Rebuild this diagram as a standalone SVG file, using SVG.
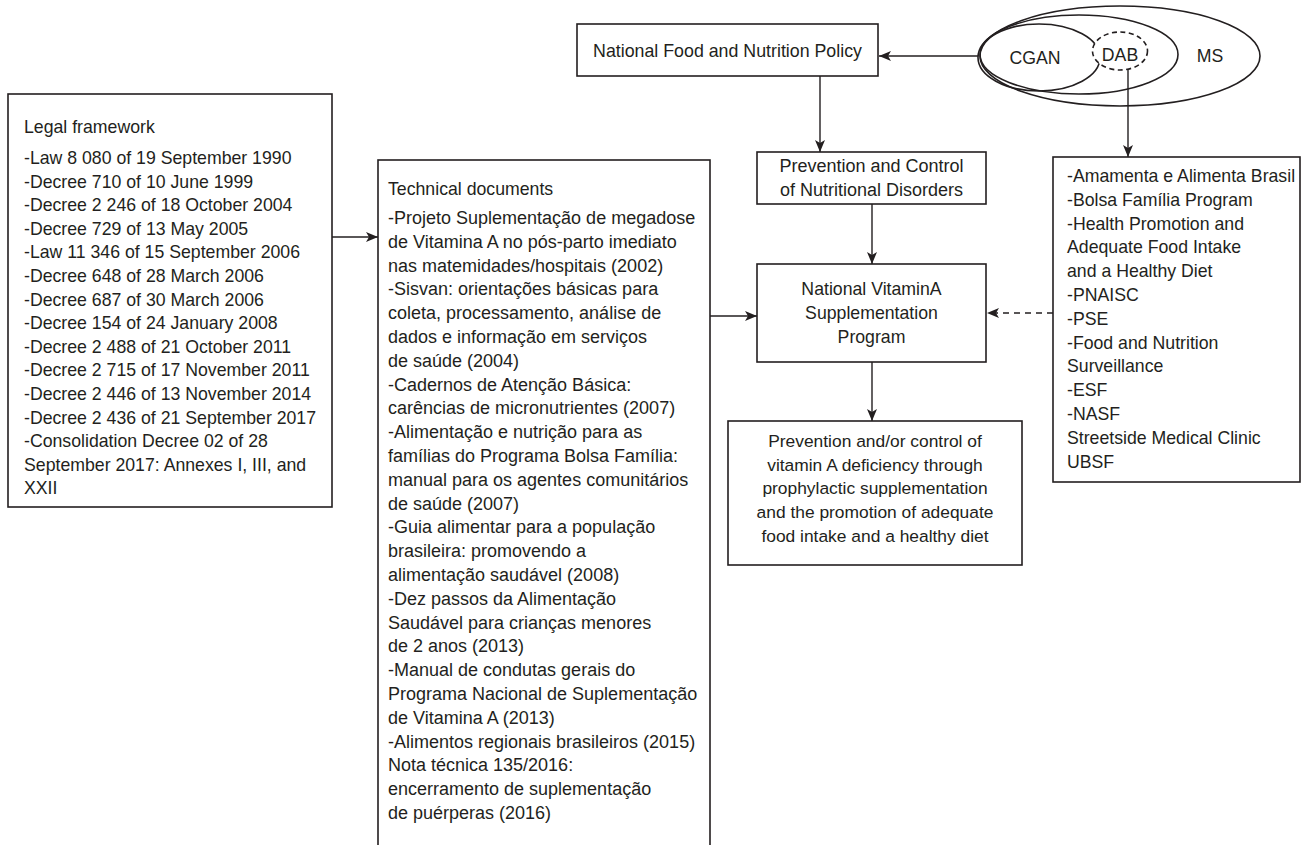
<svg xmlns="http://www.w3.org/2000/svg" width="1307" height="845" viewBox="0 0 1307 845">
<style>
.box{fill:#fff;stroke:#231f20;stroke-width:1.6}
.ell{fill:none;stroke:#231f20;stroke-width:1.6}
.line{fill:none;stroke:#231f20;stroke-width:1.4}
.dash{stroke-dasharray:6 5}
text{font-family:"Liberation Sans",Arial,sans-serif;fill:#231f20;font-size:17.7px}
.c{text-anchor:middle}
</style>
<defs>
<marker id="ah" viewBox="0 0 12 10" refX="12" refY="5" markerWidth="12" markerHeight="10" markerUnits="userSpaceOnUse" orient="auto">
<path d="M0,0 L12,5 L0,10 L3,5 z" fill="#231f20"/>
</marker>
</defs>
<rect width="1307" height="845" fill="#fff"/>

<g id="ministry">
<ellipse class="ell" cx="1120" cy="56" rx="140" ry="50"/>
<ellipse class="ell" cx="1079" cy="54.5" rx="99" ry="39.5"/>
<ellipse class="ell" cx="1039" cy="57.5" rx="61" ry="33.5"/>
<ellipse cx="1120" cy="51" rx="27.5" ry="19" fill="#fff" stroke="#231f20" stroke-width="1.6" stroke-dasharray="5 3.5"/>
<text class="c" x="1035" y="64">CGAN</text>
<text class="c" x="1120" y="61">DAB</text>
<text class="c" x="1210" y="62">MS</text>
</g>

<g id="nfnp">
<rect class="box" x="577" y="24" width="301" height="52"/>
<text class="c" x="727.5" y="57" style="font-size:17.8px">National Food and Nutrition Policy</text>
</g>

<g id="pcnd">
<rect class="box" x="757" y="152" width="229" height="52"/>
<text class="c" x="871.5" y="172" style="font-size:18px">Prevention and Control</text>
<text class="c" x="871.5" y="196" style="font-size:18px">of Nutritional Disorders</text>
</g>

<g id="nvsp">
<rect class="box" x="757" y="264" width="229" height="98"/>
<text class="c" x="871.5" y="295">National VitaminA</text>
<text class="c" x="871.5" y="319">Supplementation</text>
<text class="c" x="871.5" y="343">Program</text>
</g>

<g id="outcome">
<rect class="box" x="728" y="421" width="294" height="144"/>
<g style="font-size:17.4px">
<text class="c" x="875" y="447" style="font-size:17.4px">Prevention and/or control of</text>
<text class="c" x="875" y="471" style="font-size:17.4px">vitamin A deficiency through</text>
<text class="c" x="875" y="494" style="font-size:17.4px">prophylactic supplementation</text>
<text class="c" x="875" y="518" style="font-size:17.4px">and the promotion of adequate</text>
<text class="c" x="875" y="542" style="font-size:17.4px">food intake and a healthy diet</text>
</g>
</g>

<g id="legal">
<rect class="box" x="8" y="94" width="324" height="413"/>
<text x="24" y="133">Legal framework</text>
<text x="24" y="164">
<tspan x="24">-Law 8 080 of 19 September 1990</tspan>
<tspan x="24" dy="23.6">-Decree 710 of 10 June 1999</tspan>
<tspan x="24" dy="23.6">-Decree 2 246 of 18 October 2004</tspan>
<tspan x="24" dy="23.6">-Decree 729 of 13 May 2005</tspan>
<tspan x="24" dy="23.6">-Law 11 346 of 15 September 2006</tspan>
<tspan x="24" dy="23.6">-Decree 648 of 28 March 2006</tspan>
<tspan x="24" dy="23.6">-Decree 687 of 30 March 2006</tspan>
<tspan x="24" dy="23.6">-Decree 154 of 24 January 2008</tspan>
<tspan x="24" dy="23.6">-Decree 2 488 of 21 October 2011</tspan>
<tspan x="24" dy="23.6">-Decree 2 715 of 17 November 2011</tspan>
<tspan x="24" dy="23.6">-Decree 2 446 of 13 November 2014</tspan>
<tspan x="24" dy="23.6">-Decree 2 436 of 21 September 2017</tspan>
<tspan x="24" dy="23.6">-Consolidation Decree 02 of 28</tspan>
<tspan x="24" dy="23.6">September 2017: Annexes I, III, and</tspan>
<tspan x="24" dy="23.6">XXII</tspan>
</text>
</g>

<g id="technical">
<rect class="box" x="378" y="160" width="332" height="700"/>
<text x="388" y="195">Technical documents</text>
<text x="388" y="224" style="font-size:18px">
<tspan x="388">-Projeto Suplementação de megadose</tspan>
<tspan x="388" dy="23.8">de Vitamina A no pós-parto imediato</tspan>
<tspan x="388" dy="23.8">nas matemidades/hospitais (2002)</tspan>
<tspan x="388" dy="23.8">-Sisvan: orientações básicas para</tspan>
<tspan x="388" dy="23.8">coleta, processamento, análise de</tspan>
<tspan x="388" dy="23.8">dados e informação em serviços</tspan>
<tspan x="388" dy="23.8">de saúde (2004)</tspan>
<tspan x="388" dy="23.8">-Cadernos de Atenção Básica:</tspan>
<tspan x="388" dy="23.8">carências de micronutrientes (2007)</tspan>
<tspan x="388" dy="23.8">-Alimentação e nutrição para as</tspan>
<tspan x="388" dy="23.8">famílias do Programa Bolsa Família:</tspan>
<tspan x="388" dy="23.8">manual para os agentes comunitários</tspan>
<tspan x="388" dy="23.8">de saúde (2007)</tspan>
<tspan x="388" dy="23.8">-Guia alimentar para a população</tspan>
<tspan x="388" dy="23.8">brasileira: promovendo a</tspan>
<tspan x="388" dy="23.8">alimentação saudável (2008)</tspan>
<tspan x="388" dy="23.8">-Dez passos da Alimentação</tspan>
<tspan x="388" dy="23.8">Saudável para crianças menores</tspan>
<tspan x="388" dy="23.8">de 2 anos (2013)</tspan>
<tspan x="388" dy="23.8">-Manual de condutas gerais do</tspan>
<tspan x="388" dy="23.8">Programa Nacional de Suplementação</tspan>
<tspan x="388" dy="23.8">de Vitamina A (2013)</tspan>
<tspan x="388" dy="23.8">-Alimentos regionais brasileiros (2015)</tspan>
<tspan x="388" dy="23.8">Nota técnica 135/2016:</tspan>
<tspan x="388" dy="23.8">encerramento de suplementação</tspan>
<tspan x="388" dy="23.8">de puérperas (2016)</tspan>
</text>
</g>

<g id="programs">
<rect class="box" x="1053" y="157" width="247" height="325"/>
<text x="1067" y="182">
<tspan x="1067">-Amamenta e Alimenta Brasil</tspan>
<tspan x="1067" dy="23.8">-Bolsa Família Program</tspan>
<tspan x="1067" dy="23.8">-Health Promotion and</tspan>
<tspan x="1067" dy="23.8">Adequate Food Intake</tspan>
<tspan x="1067" dy="23.8">and a Healthy Diet</tspan>
<tspan x="1067" dy="23.8">-PNAISC</tspan>
<tspan x="1067" dy="23.8">-PSE</tspan>
<tspan x="1067" dy="23.8">-Food and Nutrition</tspan>
<tspan x="1067" dy="23.8">Surveillance</tspan>
<tspan x="1067" dy="23.8">-ESF</tspan>
<tspan x="1067" dy="23.8">-NASF</tspan>
<tspan x="1067" dy="23.8">Streetside Medical Clinic</tspan>
<tspan x="1067" dy="23.8">UBSF</tspan>
</text>
</g>

<g id="connectors">
<line class="line" x1="978" y1="56" x2="879" y2="56" marker-end="url(#ah)"/>
<line class="line" x1="820" y1="76" x2="820" y2="152" marker-end="url(#ah)"/>
<line class="line" x1="872" y1="204" x2="872" y2="264" marker-end="url(#ah)"/>
<line class="line" x1="872" y1="362" x2="872" y2="421" marker-end="url(#ah)"/>
<line class="line" x1="332" y1="237" x2="378" y2="237" marker-end="url(#ah)"/>
<line class="line" x1="710" y1="316" x2="757" y2="316" marker-end="url(#ah)"/>
<line class="line dash" x1="1053" y1="313" x2="987" y2="313" marker-end="url(#ah)"/>
<line class="line" x1="1128" y1="69" x2="1128" y2="157" marker-end="url(#ah)"/>
</g>
</svg>
